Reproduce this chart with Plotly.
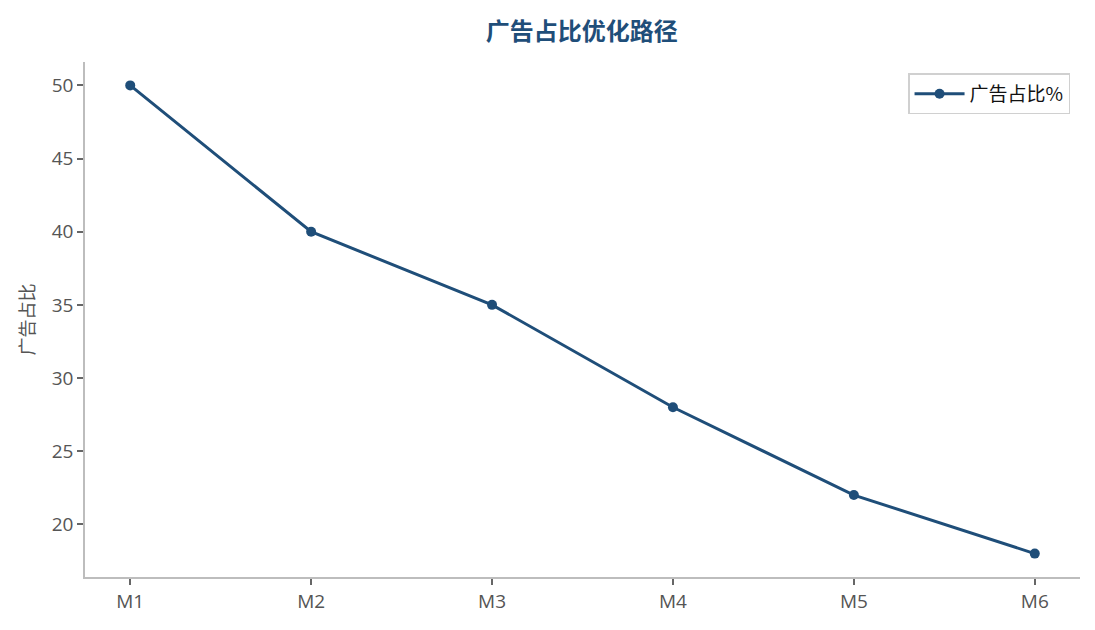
import plotly.graph_objects as go

# months and ad share values
months = ['M1', 'M2', 'M3', 'M4', 'M5', 'M6']
ad_share = [50, 40, 35, 28, 22, 18]

y_ticks = [20, 25, 30, 35, 40, 45, 50]

line_color = '#1f4e79'
axis_color = '#bdbdbd'
tick_font = dict(family='Open Sans, Noto Sans CJK SC, sans-serif', size=19, color='#555555')

fig = go.Figure()

fig.add_trace(go.Scatter(
    x=list(range(len(months))), y=ad_share,
    mode='lines+markers', name='广告占比%',
    line=dict(color=line_color, width=3),
    marker=dict(color=line_color, size=10),
))

# the page puts the figure 8px in from the top-left corner
fig.update_layout(
    width=1095, height=630,
    margin=dict(l=77, r=23, t=54, b=61),
    plot_bgcolor='white', paper_bgcolor='white',
    title=dict(text='<b>广告占比优化路径</b>', x=0.524, xanchor='center', y=0.963, yanchor='middle',
               font=dict(family='Noto Sans CJK SC', size=24, color=line_color)),
    showlegend=True,
    legend=dict(x=0.99, y=0.978, xanchor='right', yanchor='top',
                bordercolor='#d0d0d0', borderwidth=1.5, bgcolor='white',
                itemwidth=50,
                font=dict(family='Noto Sans CJK SC', size=19, color='#111111')),
)

fig.update_xaxes(
    range=[-0.25, 5.25], tickmode='array', tickvals=list(range(len(months))), ticktext=months,
    showgrid=False, zeroline=False, showline=True, linecolor=axis_color, linewidth=1.5,
    ticks='outside', ticklen=6, tickwidth=1.5, tickcolor='#666666', tickfont=tick_font,
    mirror=False,
)
fig.update_yaxes(
    range=[16.4, 51.6], tickmode='array', tickvals=y_ticks,
    showgrid=False, zeroline=False, showline=True, linecolor=axis_color, linewidth=1.5,
    ticks='outside', ticklen=6, tickwidth=1.5, tickcolor='#666666', tickfont=tick_font,
    title=dict(text='广告占比', font=dict(family='Noto Sans CJK SC', size=18, color='#555555'), standoff=12),
    mirror=False,
)

fig.write_html('out.html')
